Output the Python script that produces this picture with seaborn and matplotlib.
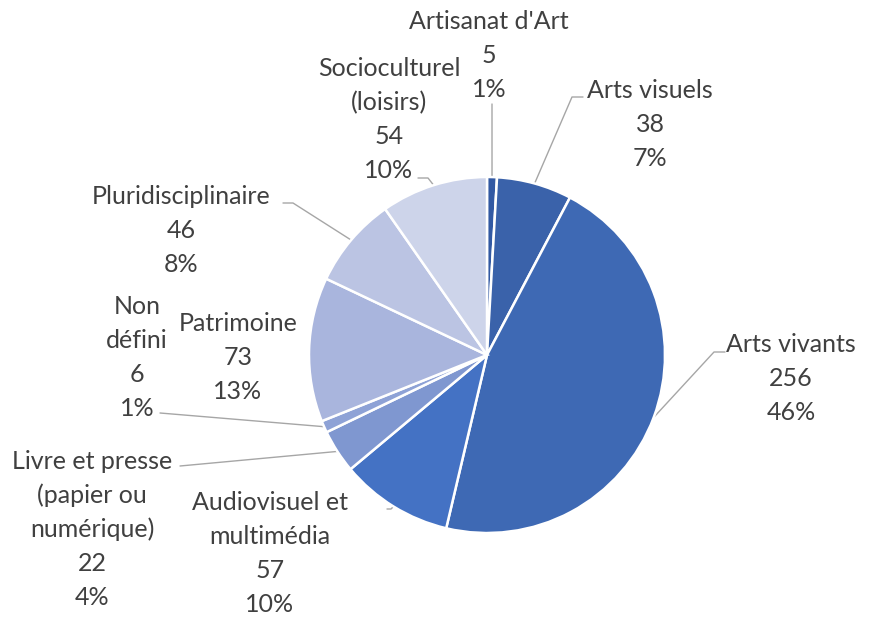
import numpy as np
import seaborn as sns
import matplotlib.pyplot as plt

# data (clockwise from the top)
labels = ["Artisanat d'Art", "Arts visuels", "Arts vivants", "Audiovisuel et\nmultimédia",
          "Livre et presse\n(papier ou\nnumérique)", "Non\ndéfini", "Patrimoine",
          "Pluridisciplinaire", "Socioculturel\n(loisirs)"]
values = [5, 38, 256, 57, 22, 6, 73, 46, 54]
colors = ["#3259A3", "#3A62AA", "#3E69B4", "#4472C4", "#7F97D0", "#8EA2D6",
          "#A9B5DD", "#BBC4E3", "#CDD4EA"]

# label block centres (pixels from top-left) and leader elbows
label_pos = [(489, 56), (650, 125), (791, 379), (270, 554), (92, 530),
             (137, 358), (238, 358), (181, 231), (389, 120)]
leader_start = [(492, 104), (583, 97), (725, 352), (387, 509), (180, 466),
                (160, 413), None, (283, 203), (418, 178)]
leader_elbow = [None, (572, 97), (714, 352), (391, 509), None,
                None, None, (293, 203), (428, 178)]
line_gap = 34

W, H = 876, 620
sns.set_theme(style="white")
plt.rcParams['font.family'] = ['Lato', 'DejaVu Sans']

fig = plt.figure(figsize=(W / 100, H / 100), dpi=100)
ax = fig.add_axes([0, 0, 1, 1])

cx, cy, r = 487, H - 355, 178
wedges, _ = ax.pie(values, colors=colors, startangle=90, counterclock=False,
                   center=(cx, cy), radius=r, frame=True,
                   wedgeprops=dict(edgecolor='white', linewidth=1.8))
ax.set_xlim(0, W)
ax.set_ylim(0, H)
ax.set_aspect('equal')
ax.axis('off')

total = sum(values)
for i, w in enumerate(wedges):
    pct = values[i] / total * 100
    lines = labels[i].split('\n') + [str(values[i]), f"{pct:.0f}%"]
    x, y = label_pos[i]
    n = len(lines)
    for k, s in enumerate(lines):
        base = y + (k - (n - 1) / 2) * line_gap + 7
        ax.text(x, H - base, s, ha='center', va='baseline', fontsize=18,
                color='#404040')
    if leader_start[i] is not None:
        mid = np.deg2rad((w.theta1 + w.theta2) / 2)
        px, py = cx + r * np.cos(mid), cy + r * np.sin(mid)
        pts = [leader_start[i]]
        if leader_elbow[i] is not None:
            pts.append(leader_elbow[i])
        xs = [p[0] for p in pts] + [px]
        ys = [H - p[1] for p in pts] + [py]
        ax.plot(xs, ys, color='#A6A6A6', lw=1, zorder=0.5)

fig.savefig('out.png', dpi=100)
